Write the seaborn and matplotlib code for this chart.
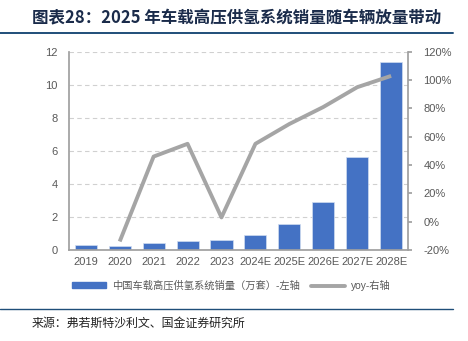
import numpy as np
import pandas as pd
import matplotlib
matplotlib.use("Agg")
import matplotlib.pyplot as plt
import seaborn as sns
from matplotlib.patches import Patch
from matplotlib.lines import Line2D
from matplotlib.ticker import FuncFormatter

sns.set_theme(style="white")
plt.rcParams['font.family'] = ['Liberation Sans', 'Noto Sans CJK SC', 'DejaVu Sans']

years = ["2019", "2020", "2021", "2022", "2023", "2024E", "2025E", "2026E", "2027E", "2028E"]
sales = [0.30, 0.24, 0.40, 0.55, 0.60, 0.90, 1.57, 2.89, 5.60, 11.38]
yoy = [np.nan, -14, 46, 55, 3, 55, 69, 81, 95, 103]
left_ticks = [0, 2, 4, 6, 8, 10, 12]
right_ticks = [-20, 0, 20, 40, 60, 80, 100, 120]

bar_name = "中国车载高压供氢系统销量（万套）-左轴"
line_name = "yoy-右轴"
title = "图表28：2025 年车载高压供氢系统销量随车辆放量带动"
source = "来源：弗若斯特沙利文、国金证券研究所"

df = pd.DataFrame({"year": years, "sales": sales, "yoy": yoy})

BLUE = "#4472C4"
GREY = "#A5A5A5"
TXT = "#595959"

fig = plt.figure(figsize=(4.68, 3.41), dpi=100)
ax = fig.add_axes([0.147, 0.267, 0.725, 0.581])

sns.barplot(data=df, x="year", y="sales", color=BLUE, width=0.65, ax=ax,
            saturation=1, edgecolor="#D0DCF0", linewidth=0.5, zorder=2)
ax.set_ylim(0, 12)
ax.set_yticks(left_ticks)
ax.set_xlim(-0.5, len(years) - 0.5)
ax.yaxis.grid(True, color="#D0D0D0", linestyle=(0, (4, 3)), linewidth=0.8, zorder=0)
ax.set_axisbelow(True)
ax.set_xlabel("")
ax.set_ylabel("")

ax2 = ax.twinx()
sns.lineplot(data=df, x="year", y="yoy", color=GREY, linewidth=2.8, ax=ax2,
             solid_capstyle="butt", zorder=3)
ax2.set_ylim(-20, 120)
ax2.set_yticks(right_ticks)
ax2.yaxis.set_major_formatter(FuncFormatter(lambda v, p: f"{int(v)}%"))
ax2.set_ylabel("")
ax2.set_xlabel("")

for a in (ax, ax2):
    for s in a.spines.values():
        s.set_visible(False)
ax.spines['left'].set_visible(True)
ax.spines['left'].set_color("#A0A0A0")
ax.spines['bottom'].set_visible(True)
ax.spines['bottom'].set_color("#A0A0A0")
ax2.spines['right'].set_visible(True)
ax2.spines['right'].set_color("#A0A0A0")

ax.tick_params(axis='y', length=0, labelsize=8, labelcolor=TXT, pad=8)
ax.tick_params(axis='x', length=0, labelsize=8, labelcolor=TXT, pad=5)
ax2.tick_params(axis='y', direction='out', length=3, color="#A0A0A0",
                labelsize=8, labelcolor=TXT, pad=8)
ax.set_xticks(np.arange(-0.5, len(years), 1.0), minor=True)
ax.tick_params(axis='x', which='minor', length=4, color="#A0A0A0", direction='out')

handles = [Patch(facecolor=BLUE, edgecolor=BLUE), Line2D([], [], color=GREY, linewidth=2.8)]
leg = fig.legend(handles, [bar_name, line_name], loc="center left",
                 bbox_to_anchor=(0.135, 0.163), ncol=2, frameon=False,
                 fontsize=7.4, handlelength=3.3, handleheight=0.55, columnspacing=1.0,
                 handletextpad=0.6)
for t in leg.get_texts():
    t.set_color(TXT)

fig.text(0.068, 0.945, title, fontsize=11.9, fontweight="bold", style="italic",
         color="#1A2B4A", va="center", ha="left",
         family=['Noto Sans CJK SC', 'DejaVu Sans'])
fig.add_artist(Line2D([0.0, 0.968], [0.903, 0.903], color="#1F4E79", linewidth=1.4,
                      transform=fig.transFigure))
fig.add_artist(Line2D([0.0, 0.968], [0.093, 0.093], color="#1F4E79", linewidth=1.0,
                      transform=fig.transFigure))
fig.text(0.068, 0.052, source, fontsize=8.6, color="#222222", va="center", ha="left",
         family=['Noto Sans CJK SC', 'DejaVu Sans'])

fig.savefig("out.png", dpi=100)
